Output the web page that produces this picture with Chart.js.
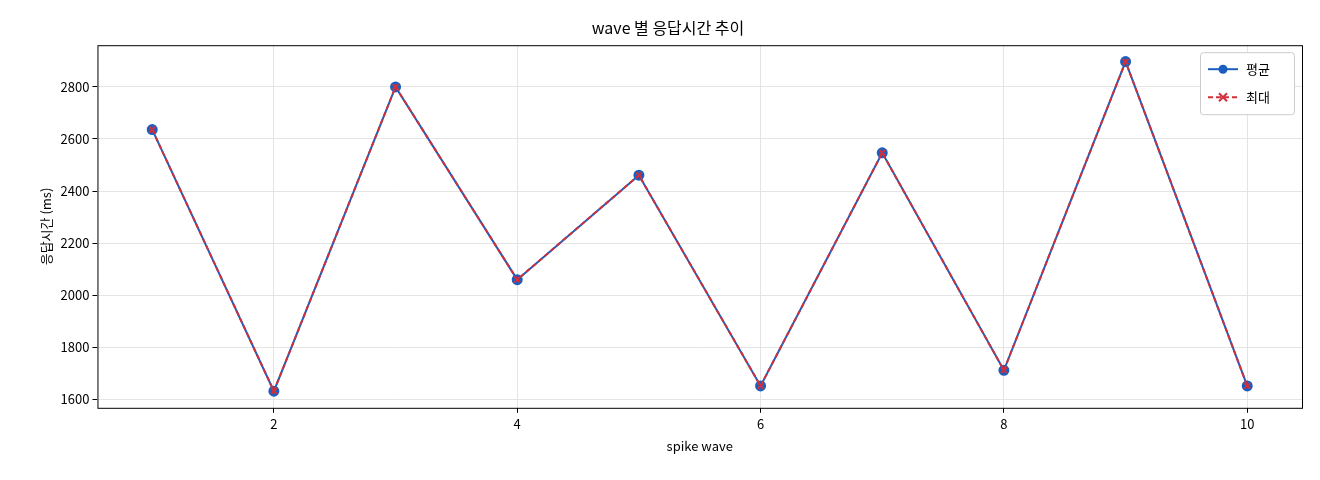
<!DOCTYPE html>
<html><head><meta charset="utf-8">
<script src="https://cdn.jsdelivr.net/npm/chart.js@4/dist/chart.umd.min.js"></script>
<style>html,body{margin:0;background:#fff}#w{width:1320px;height:480px;position:relative}</style>
</head><body><div id="w"><canvas id="c"></canvas></div>
<script>
const waves=[1,2,3,4,5,6,7,8,9,10];
const avgVals=[2636,1632,2800,2060,2461,1652,2547,1712,2897,1652];
const maxVals=[2636,1632,2800,2060,2461,1652,2547,1712,2897,1652];
const xTicks=[2,4,6,8,10];
const yTicks=[1600,1800,2000,2200,2400,2600,2800];
const F="'Noto Sans CJK KR','DejaVu Sans',sans-serif";
Chart.defaults.font.family=F;Chart.defaults.color='#222';
const frame={id:'frame',afterDraw(c){const a=c.chartArea,x=c.ctx;x.save();x.strokeStyle='#000';x.lineWidth=1;x.strokeRect(a.left+.5,a.top+.5,a.right-a.left,a.bottom-a.top);x.restore();}};
new Chart(document.getElementById('c'),{type:'line',
data:{datasets:[
{label:'평균',order:2,data:waves.map((w,i)=>({x:w,y:avgVals[i]})),borderColor:'#1a5fbf',backgroundColor:'#1a5fbf',borderWidth:2,pointRadius:4.5,pointStyle:'circle'},
{label:'최대',order:1,data:waves.map((w,i)=>({x:w,y:maxVals[i]})),borderColor:'#d1303a',backgroundColor:'#d1303a',borderWidth:2,borderDash:[5,3],pointRadius:4,pointStyle:'crossRot',pointBorderWidth:2}
]},
options:{responsive:true,maintainAspectRatio:false,animation:false,
layout:{padding:{left:34,right:18,top:10,bottom:22}},
plugins:{title:{display:true,text:'wave 별 응답시간 추이',font:{size:16,weight:'normal'},color:'#000',padding:{top:8,bottom:8}},
legend:{display:false}},
scales:{x:{type:'linear',min:0.55,max:10.45,afterBuildTicks:s=>{s.ticks=xTicks.map(v=>({value:v}))},
grid:{color:'#e4e4e4',tickColor:'#000',tickLength:5},border:{display:false},
ticks:{font:{size:13},color:'#000',callback:v=>String(v)},title:{display:true,text:'spike wave',font:{size:13},color:'#000'}},
y:{min:1568,max:2960,afterBuildTicks:s=>{s.ticks=yTicks.map(v=>({value:v}))},
grid:{color:'#e4e4e4',tickColor:'#000',tickLength:5},border:{display:false},
ticks:{font:{size:13},color:'#000',callback:v=>String(v)},title:{display:true,text:'응답시간 (ms)',font:{size:13},color:'#000'}}}},
plugins:[frame,{id:'leg',afterDraw(c){const x=c.ctx,a=c.chartArea;const L=a.right-102,T=a.top+7;x.save();
x.fillStyle='#fff';x.strokeStyle='#ccc';x.lineWidth=1;x.beginPath();x.roundRect(L+.5,T+.5,94,62,3);x.fill();x.stroke();
const items=[['평균','#1a5fbf',[],'o'],['최대','#d1303a',[5,3],'x']];
items.forEach((it,i)=>{const y=T+17+i*28;x.strokeStyle=it[1];x.lineWidth=2;x.setLineDash(it[2]);x.beginPath();x.moveTo(L+8,y);x.lineTo(L+38,y);x.stroke();x.setLineDash([]);
x.fillStyle=it[1];if(it[3]==='o'){x.beginPath();x.arc(L+23,y,4.5,0,7);x.fill();}else{x.beginPath();x.moveTo(L+19,y-4);x.lineTo(L+27,y+4);x.moveTo(L+27,y-4);x.lineTo(L+19,y+4);x.stroke();}
x.fillStyle='#000';x.font='13px '+F;x.textBaseline='middle';x.fillText(it[0],L+46,y);});x.restore();}}]});
</script></body></html>
